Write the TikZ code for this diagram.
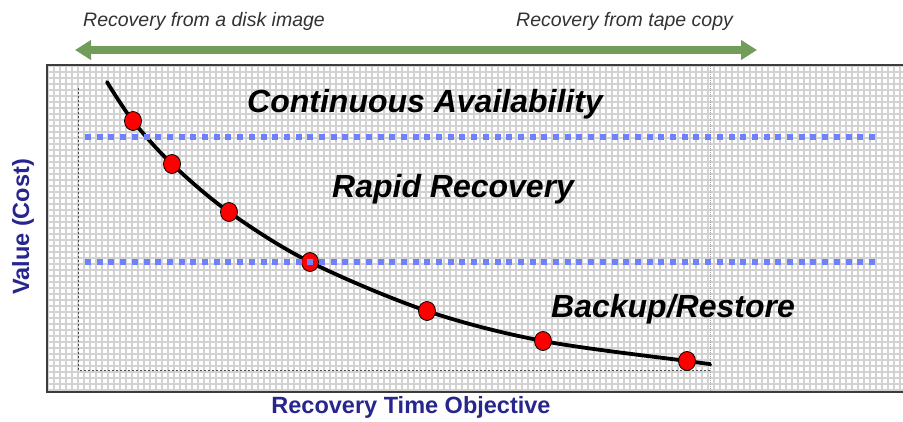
\documentclass[tikz,border=0pt]{standalone}
\usepackage{fontspec}
\setmainfont{Liberation Sans}
\usetikzlibrary{arrows.meta,shapes.geometric}
\definecolor{arrowgreen}{RGB}{114,156,90}
\definecolor{toptext}{RGB}{50,50,50}
\definecolor{navy}{RGB}{38,38,140}
\definecolor{dotblue}{RGB}{112,128,250}
\definecolor{gridgray}{RGB}{210,210,210}
\definecolor{framegray}{RGB}{60,60,60}
\tikzset{
  toplabel/.style={font=\fontsize{19.5}{22}\selectfont\itshape, text=toptext, inner sep=0pt, anchor=base west},
  zonelabel/.style={font=\fontsize{32}{35}\selectfont\bfseries\itshape, text=black, inner sep=0pt, anchor=base west},
  axislabel/.style={font=\fontsize{23.5}{26}\selectfont\bfseries, text=navy, inner sep=0pt},
  dot/.style={ellipse, draw=black, line width=0.8pt, fill=red, minimum width=17pt, minimum height=19pt, inner sep=0pt},
  levelline/.style={dotblue, line width=5.5pt, dash pattern=on 6pt off 5.7pt},
  faintaxis/.style={draw=black!70, line width=0.6pt, dash pattern=on 2pt off 2pt},
}
\begin{document}
\begin{tikzpicture}[x=1pt,y=-1pt]
\useasboundingbox (0,0) rectangle (903,421);
% top arrow and labels
\node[toplabel] (disk) at (83,26) {Recovery from a disk image};
\node[toplabel] (tape) at (516,26) {Recovery from tape copy};
\coordinate (al) at (75,50);
\coordinate (ar) at (757,50);
\draw[arrowgreen, line width=7.5pt, {Triangle[width=19pt,length=16pt]}-{Triangle[width=19pt,length=16pt]}] (al) -- (ar);
% panel
\begin{scope}
\clip (47,65) rectangle (903,392);
\fill[white] (47,65) rectangle (903,392);
\draw[gridgray, line width=2.4pt, step=6pt] (40,60) grid (910,400);
\end{scope}
\draw[framegray, line width=1.5pt] (910,65) -- (47,65) -- (47,392) -- (910,392);
% faint inner axes
\draw[faintaxis] (78,88) -- (78,370) -- (710,370);
\draw[black!35, line width=0.5pt, dash pattern=on 1pt off 1pt] (710,66) -- (710,391);
% zone labels
\node[zonelabel] (ca) at (247,112) {Continuous Availability};
\node[zonelabel] (rr) at (332,197) {Rapid Recovery};
\node[zonelabel] (br) at (551,317) {Backup/Restore};
% curve
\coordinate (c0) at (107,82);
\coordinate (c8) at (710,364);
\coordinate (q1) at (133,121);
\coordinate (q2) at (172,164);
\coordinate (q3) at (229,212);
\coordinate (q4) at (310,262);
\coordinate (q5) at (427,311);
\coordinate (q6) at (543,341);
\coordinate (q7) at (687,361);
\draw[black, line width=3.8pt, line cap=round] plot[smooth, tension=0.55] coordinates {(c0) (q1) (q2) (q3) (q4) (q5) (q6) (q7) (c8)};
\foreach \i in {1,...,7} { \node[dot] (p\i) at (q\i) {}; }
% level lines
\coordinate (l1a) at (85,137); \coordinate (l1b) at (880,137);
\coordinate (l2a) at (85,262); \coordinate (l2b) at (880,262);
\draw[levelline] (l1a) -- (l1b);
\draw[levelline] (l2a) -- (l2b);
% axis titles
\node[axislabel, rotate=90] (yl) at (23,227) {Value (Cost)};
\node[axislabel, anchor=base] (xl) at (411,413) {Recovery Time Objective};
\end{tikzpicture}
\end{document}
